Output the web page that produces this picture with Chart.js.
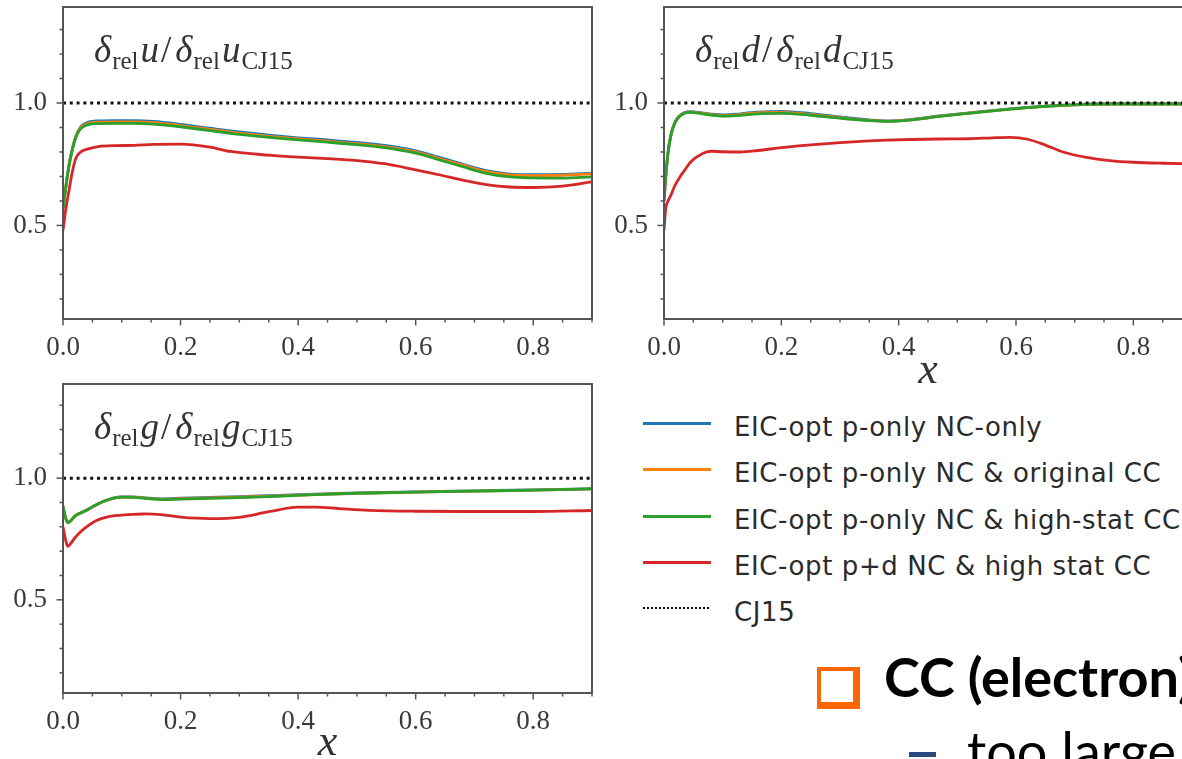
<!DOCTYPE html>
<html><head><meta charset="utf-8">
<script src="https://cdn.jsdelivr.net/npm/chart.js@4.4.0/dist/chart.umd.min.js"></script>
<style>
html,body{margin:0;padding:0;background:#fff;}
body{width:1182px;height:759px;position:relative;overflow:hidden;}
canvas{position:absolute;}
.leg{position:absolute;left:734px;font-family:"DejaVu Sans";font-size:26px;line-height:26px;letter-spacing:0.6px;color:#2a2a2a;white-space:nowrap;}
.sw{position:absolute;left:643px;width:68px;height:0;}
.cc{position:absolute;left:884px;top:650px;font-family:"Lato";font-weight:700;font-size:54px;line-height:54px;color:#000;white-space:nowrap;}
.box{position:absolute;left:817px;top:667px;width:32px;height:31px;border:4px solid #ff6600;border-right-width:7px;border-bottom-width:7px;}
.sub{position:absolute;left:967px;top:724px;font-family:"Lato";font-size:54px;line-height:54px;color:#000;white-space:nowrap;}
.dash{position:absolute;left:909px;top:752px;width:27px;height:5px;background:#2a4a7f;}
</style></head><body>
<canvas id="cu" width="600" height="380" style="left:0;top:0"></canvas>
<canvas id="cd" width="600" height="390" style="left:600px;top:0"></canvas>
<canvas id="cg" width="600" height="382" style="left:0;top:377px"></canvas>
<div id="legend"></div>
<div class="box"></div>
<div class="cc">CC (electron)</div>
<div class="dash"></div>
<div class="sub">too large</div>
<script>
// ---------- data ----------
const seriesNames = ["EIC-opt p-only NC-only","EIC-opt p-only NC & original CC","EIC-opt p-only NC & high-stat CC","EIC-opt p+d NC & high stat CC"];
const refName = "CJ15";
const seriesColors = ["#1f77b4","#ff7f0e","#2ca02c","#d62728"];

const xTickLabels = [0.0,0.2,0.4,0.6,0.8];
const xMinorTicks = [0.05,0.1,0.15,0.25,0.3,0.35,0.45,0.5,0.55,0.65,0.7,0.75,0.85,0.9];
const yTickLabels = [0.5,1.0];
const yMinorTicks = [0.2,0.3,0.4,0.6,0.7,0.8,0.9,1.1,1.2,1.3];

// u panel
const xU = [0,0.005,0.01,0.016,0.022,0.03,0.043,0.06,0.09,0.12,0.154,0.2,0.25,0.285,0.35,0.4,0.45,0.5,0.547,0.6,0.64,0.68,0.72,0.76,0.8,0.85,0.9];
const uBlue   = [0.57,0.66,0.745,0.815,0.865,0.903,0.922,0.927,0.928,0.928,0.925,0.913,0.897,0.886,0.869,0.858,0.849,0.839,0.827,0.805,0.778,0.750,0.724,0.710,0.707,0.708,0.714];
const uOrange = [0.57,0.66,0.742,0.812,0.862,0.899,0.917,0.922,0.923,0.923,0.920,0.908,0.892,0.881,0.864,0.853,0.844,0.834,0.822,0.800,0.773,0.746,0.720,0.706,0.703,0.705,0.711];
const uGreen  = [0.57,0.66,0.74,0.81,0.86,0.895,0.912,0.916,0.917,0.917,0.914,0.903,0.887,0.876,0.860,0.849,0.840,0.830,0.818,0.795,0.768,0.740,0.713,0.698,0.694,0.693,0.698];
const uRed    = [0.48,0.57,0.64,0.72,0.775,0.80,0.813,0.822,0.826,0.827,0.831,0.832,0.820,0.802,0.787,0.779,0.773,0.765,0.752,0.727,0.707,0.685,0.667,0.657,0.655,0.661,0.678];

// d panel
const xD = [0,0.003,0.007,0.012,0.018,0.025,0.035,0.045,0.065,0.08,0.1,0.13,0.16,0.2,0.25,0.3,0.35,0.38,0.42,0.47,0.52,0.56,0.59,0.62,0.65,0.68,0.72,0.76,0.8,0.85,0.9];
const dBlue   = [0.6,0.7,0.8,0.872,0.918,0.945,0.961,0.965,0.960,0.955,0.951,0.956,0.963,0.966,0.957,0.943,0.931,0.927,0.932,0.947,0.960,0.969,0.976,0.982,0.987,0.991,0.995,0.997,0.997,0.997,0.997];
const dOrange = [0.6,0.7,0.8,0.871,0.916,0.943,0.959,0.963,0.958,0.953,0.948,0.953,0.960,0.962,0.953,0.940,0.929,0.926,0.931,0.946,0.959,0.968,0.975,0.981,0.986,0.990,0.994,0.996,0.996,0.996,0.996];
const dGreen  = [0.6,0.7,0.8,0.87,0.915,0.942,0.958,0.962,0.956,0.951,0.946,0.950,0.956,0.958,0.950,0.938,0.928,0.925,0.930,0.945,0.958,0.968,0.975,0.981,0.986,0.990,0.994,0.996,0.996,0.996,0.996];
const dRed    = [0.48,0.57,0.60,0.625,0.66,0.69,0.725,0.758,0.793,0.803,0.801,0.800,0.806,0.818,0.829,0.838,0.845,0.848,0.851,0.853,0.854,0.858,0.860,0.852,0.828,0.800,0.778,0.765,0.758,0.754,0.752];

// g panel
const xG = [0,0.004,0.008,0.012,0.02,0.03,0.04,0.056,0.07,0.085,0.1,0.12,0.14,0.17,0.2,0.25,0.3,0.35,0.4,0.43,0.47,0.52,0.6,0.7,0.8,0.9];
const gBlue   = [0.885,0.84,0.818,0.822,0.843,0.857,0.868,0.890,0.906,0.918,0.923,0.923,0.919,0.915,0.918,0.921,0.924,0.928,0.932,0.934,0.937,0.940,0.944,0.948,0.952,0.957];
const gOrange = [0.885,0.84,0.818,0.822,0.843,0.857,0.868,0.890,0.905,0.917,0.922,0.922,0.918,0.913,0.916,0.919,0.922,0.926,0.930,0.933,0.936,0.939,0.943,0.947,0.951,0.956];
const gGreen  = [0.885,0.84,0.818,0.822,0.843,0.857,0.868,0.890,0.905,0.917,0.922,0.921,0.917,0.912,0.914,0.917,0.920,0.924,0.929,0.932,0.936,0.939,0.943,0.947,0.951,0.956];
const gRed    = [0.80,0.75,0.72,0.728,0.754,0.78,0.80,0.825,0.837,0.845,0.848,0.851,0.853,0.849,0.840,0.834,0.839,0.862,0.881,0.881,0.875,0.868,0.864,0.863,0.863,0.867];

const refX = [0,0.9];
const refY = [1.0,1.0];

// ---------- helpers ----------
const pts = (xs, ys) => xs.map((x,i)=>({x, y: ys[i]}));
const AXIS = '#555555', TXT = '#3a3a3a';

function drawTitle(ctx, x, y, sym){
  const I = 'italic 37px "Liberation Serif"', M = '37px "Liberation Serif"', S = '25px "Liberation Serif"';
  const parts = [[I,'δ',0,1],[S,'rel',7,2],[I,sym,0,2],[M,'/',0,4],[I,'δ',0,1],[S,'rel',7,2],[I,sym,0,1],[S,'CJ15',7,0]];
  ctx.fillStyle = '#333';
  ctx.textBaseline = 'alphabetic'; ctx.textAlign='left';
  for (const [f,t,dy,gap] of parts){ ctx.font=f; ctx.fillText(t,x,y+dy); x += ctx.measureText(t).width + gap; }
}

const frame = {
  id:'frame',
  afterDraw(chart, args, opts){
    const {ctx, chartArea:a, scales:{x,y}} = chart;
    ctx.save();
    ctx.strokeStyle = AXIS; ctx.lineWidth = 1.5;
    const xt = (v,len)=>{const p=x.getPixelForValue(v); ctx.beginPath(); ctx.moveTo(p,a.bottom); ctx.lineTo(p,a.bottom+len); ctx.stroke();};
    const yt = (v,len)=>{const p=y.getPixelForValue(v); ctx.beginPath(); ctx.moveTo(a.left,p); ctx.lineTo(a.left-len,p); ctx.stroke();};
    xTickLabels.forEach(v=>xt(v,6.5)); xMinorTicks.forEach(v=>xt(v,3.5));
    yTickLabels.forEach(v=>yt(v,6.5)); yMinorTicks.forEach(v=>yt(v,3.5));
    ctx.lineWidth = 2; ctx.strokeStyle = AXIS;
    ctx.strokeRect(a.left, a.top, a.right-a.left, a.bottom-a.top);
    drawTitle(ctx, a.left+31, a.top+55, opts.sym);
    ctx.restore();
  }
};

function makeChart(id, xs, series, sym, yMin, yMax, yW, xH, showXTitle, titlePad){
  const ds = series.map((s,i)=>({
    label: seriesNames[i], data: pts(xs,s), borderColor: seriesColors[i],
    borderWidth: 2.8, pointRadius: 0, cubicInterpolationMode:'monotone', order: 4-i+1, fill:false
  }));
  ds.push({label: refName, data: pts(refX,refY), borderColor:'#111', borderWidth:3, borderDash:[3,3.8], pointRadius:0, order:0, fill:false});
  return new Chart(document.getElementById(id), {
    type:'line',
    data:{datasets: ds},
    options:{
      responsive:false, animation:false, devicePixelRatio:1,
      layout:{padding:{left:0,top:7,right:8,bottom:0}},
      plugins:{legend:{display:false}, tooltip:{enabled:false}, frame:{sym}},
      scales:{
        x:{type:'linear', min:0, max:0.9,
           grid:{display:false, drawTicks:false}, border:{display:false},
           afterBuildTicks: s=>{ s.ticks = xTickLabels.map(v=>({value:v})); },
           afterFit: s=>{ s.height = xH; s.paddingLeft = 0; s.paddingRight = 0; s.paddingTop = 0; s.paddingBottom = 0; },
           ticks:{padding:15, color:TXT, maxRotation:0, autoSkip:false, font:{family:'"Liberation Serif"', size:27, lineHeight:1}, callback:v=>Number(v).toFixed(1)},
           title:{display:showXTitle, text:'x', color:'#333', font:{family:'"Liberation Serif"', size:44, style:'italic', lineHeight:1}, padding:{top:0,bottom:titlePad}}
        },
        y:{type:'linear', min:yMin, max:yMax,
           grid:{display:false, drawTicks:false}, border:{display:false},
           afterBuildTicks: s=>{ s.ticks = yTickLabels.map(v=>({value:v})); },
           afterFit: s=>{ s.width = yW; s.paddingTop = 0; s.paddingBottom = 0; s.paddingLeft = 0; s.paddingRight = 0; },
           ticks:{padding:16, color:TXT, font:{family:'"Liberation Serif"', size:27, lineHeight:1}, callback:v=>Number(v).toFixed(1)}
        }
      }
    },
    plugins:[frame]
  });
}

makeChart('cu', xU, [uBlue,uOrange,uGreen,uRed], 'u', 0.118, 1.392, 63, 61, false, 0);
makeChart('cd', xD, [dBlue,dOrange,dGreen,dRed], 'd', 0.118, 1.392, 64, 71, true, -3);
makeChart('cg', xG, [gBlue,gOrange,gGreen,gRed], 'g', 0.117, 1.387, 63, 66, true, -6);

// ---------- legend (HTML) ----------
const rowY = [423,469,516,562,608];
const leg = document.getElementById('legend');
seriesNames.concat([refName]).forEach((n,i)=>{
  const sw = document.createElement('div'); sw.className='sw';
  sw.style.top = (rowY[i]-1.5)+'px';
  if (i < seriesNames.length){ sw.style.borderTop = '3px solid '+seriesColors[i]; }
  else { sw.style.borderTop = '2.5px dotted #000'; sw.style.width='66px'; }
  leg.appendChild(sw);
  const t = document.createElement('div'); t.className='leg'; t.textContent = n;
  t.style.top = (rowY[i]-9)+'px';
  leg.appendChild(t);
});
</script>
</body></html>
